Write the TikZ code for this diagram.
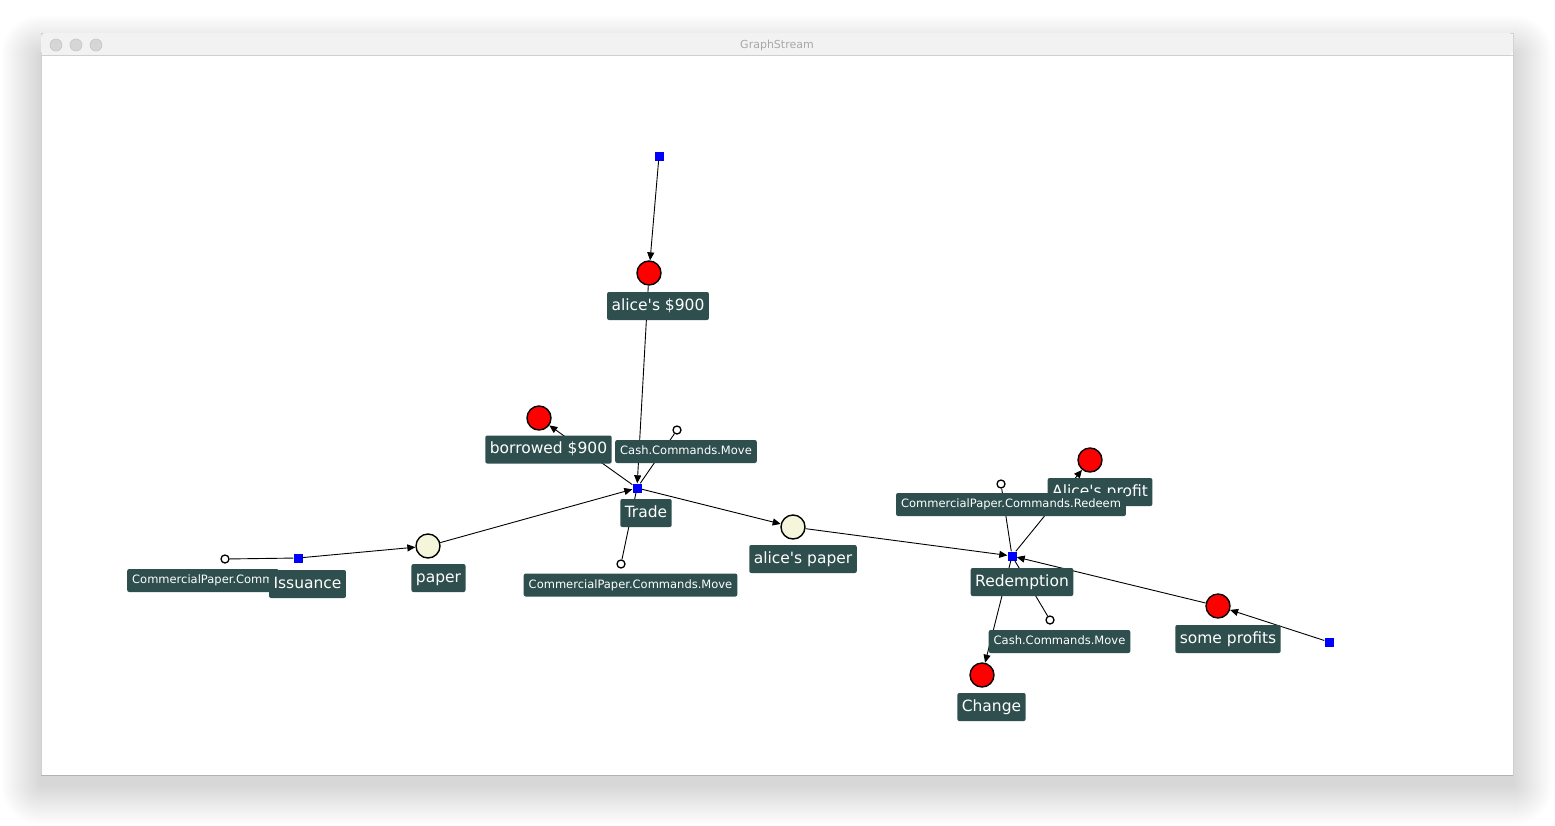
\documentclass[tikz,border=0pt]{standalone}
\usepackage{fontspec}
\newfontfamily\labfont{DejaVu Sans}
\usetikzlibrary{arrows.meta}
\definecolor{lab}{HTML}{2F4F4F}
\definecolor{cream}{HTML}{F5F5DC}
\definecolor{tbar}{HTML}{F2F2F2}
\definecolor{tline}{HTML}{CFCFCF}
\definecolor{dot}{HTML}{D6D6D6}
\definecolor{dotb}{HTML}{C6C6C6}
\definecolor{ttext}{HTML}{A8A8A8}
\tikzset{
 edge/.style={line width=0.9pt, draw=black},
 arr/.style={edge, -{Triangle[length=8pt,width=7pt]}},
 redc/.style={circle, draw=black, line width=1.4pt, fill=red, minimum size=24pt, inner sep=0pt},
 creamc/.style={redc, fill=cream},
 smallc/.style={circle, draw=black, line width=1.3pt, fill=white, minimum size=8pt, inner sep=0pt},
 bsq/.style={rectangle, fill=blue, minimum size=9pt, inner sep=0pt},
 biglab/.style={fill=lab, text=white, rounded corners=2pt, font=\labfont\fontsize{15.5}{15.5}\selectfont, text height=11pt, text depth=3pt, inner xsep=4.5pt, inner ysep=7pt},
 smalllab/.style={fill=lab, text=white, rounded corners=2pt, font=\labfont\fontsize{11.5}{11.5}\selectfont, text height=8.5pt, text depth=2.5pt, inner xsep=5pt, inner ysep=6pt},
 tdot/.style={circle, fill=dot, draw=dotb, line width=0.6pt, minimum size=12pt, inner sep=0pt},
}
\begin{document}
\begin{tikzpicture}[x=1pt,y=-1pt]
\useasboundingbox (0,0) rectangle (1555,825);
\fill[white] (0,0) rectangle (1555,825);
% window shadow
\foreach \i in {1,...,40} {
  \fill[black, opacity=0.0038, rounded corners=\i pt] (41-\i,55-\i) rectangle (1513+\i,785+\i);
}
% window
\node[draw=tline, fill=white, minimum width=1472pt, minimum height=742pt, inner sep=0pt, line width=0.8pt] (win) at (777,404) {};
\draw[black!30, line width=0.8pt] (41,775) -- (1513,775);
\fill[tbar, rounded corners=4pt] (41,55) -- (41,33) -- (1513,33) -- (1513,55) -- cycle;
\draw[tline, line width=0.8pt] (41,55) -- (1513,55);
\node[tdot] (d1) at (56,45) {};
\node[tdot] (d2) at (76,45) {};
\node[tdot] (d3) at (96,45) {};
\node[text=ttext, font=\labfont\fontsize{11}{11}\selectfont] (title) at (777,45.5) {GraphStream};

% shapes
\node[bsq] (sq1) at (659,156) {};
\node[redc] (c900) at (649,273) {};
\node[bsq] (trade) at (637,488) {};
\node[redc] (cborrow) at (539,418) {};
\node[smallc] (ccash1) at (677,430) {};
\node[smallc] (ccpmove) at (621,564) {};
\node[creamc] (cpaper) at (428,546) {};
\node[bsq] (issuance) at (298,558) {};
\node[smallc] (cissue) at (225,559) {};
\node[creamc] (calicepaper) at (793,527) {};
\node[bsq] (redemption) at (1012,556) {};
\node[redc] (cprofit) at (1090,460) {};
\node[smallc] (credeem) at (1001,484) {};
\node[smallc] (ccash2) at (1050,620) {};
\node[redc] (cchange) at (982,675) {};
\node[redc] (csome) at (1218,606) {};
\node[bsq] (sq2) at (1329,642) {};

% edges
\draw[arr] (sq1) -- (c900);
\draw[arr] (c900) -- (trade);
\draw[arr] (trade) -- (cborrow);
\draw[edge] (ccash1) -- (trade);
\draw[edge] (ccpmove) -- (trade);
\draw[arr] (cpaper) -- (trade);
\draw[arr] (trade) -- (calicepaper);
\draw[arr] (issuance) -- (cpaper);
\draw[edge] (cissue) -- (issuance);
\draw[arr] (calicepaper) -- (redemption);
\draw[edge] (credeem) -- (redemption);
\draw[arr] (redemption) -- (cprofit);
\draw[edge] (ccash2) -- (redemption);
\draw[arr] (redemption) -- (cchange);
\draw[arr] (csome) -- (redemption);
\draw[arr] (sq2) -- (csome);

% labels
\node[biglab] (l900) at (658,306) {alice's \$900};
\node[smalllab] (lcash1) at (686,451.5) {Cash.Commands.Move};
\node[biglab] (lborrow) at (548.5,449.5) {borrowed \$900};
\node[biglab] (ltrade) at (646,513) {Trade};
\node[smalllab] (lcpmove) at (630.5,585) {CommercialPaper.Commands.Move};
\node[biglab] (lpaper) at (438.5,578) {paper};
\node[smalllab, anchor=west, minimum width=150pt, align=left] (lissue) at (127,580.5) {CommercialPaper.Comm};
\node[biglab] (lissuance) at (307.5,584) {Issuance};
\node[biglab] (lalicepaper) at (803,559) {alice's paper};
\node[biglab] (lprofit) at (1100,492) {Alice's profit};
\node[smalllab] (lredeem) at (1011,504.5) {CommercialPaper.Commands.Redeem};
\node[biglab] (lredemption) at (1022,582) {Redemption};
\node[smalllab] (lcash2) at (1059.5,641.5) {Cash.Commands.Move};
\node[biglab] (lchange) at (991.5,707) {Change};
\node[biglab] (lsome) at (1228,639) {some profits};
\end{tikzpicture}
\end{document}
